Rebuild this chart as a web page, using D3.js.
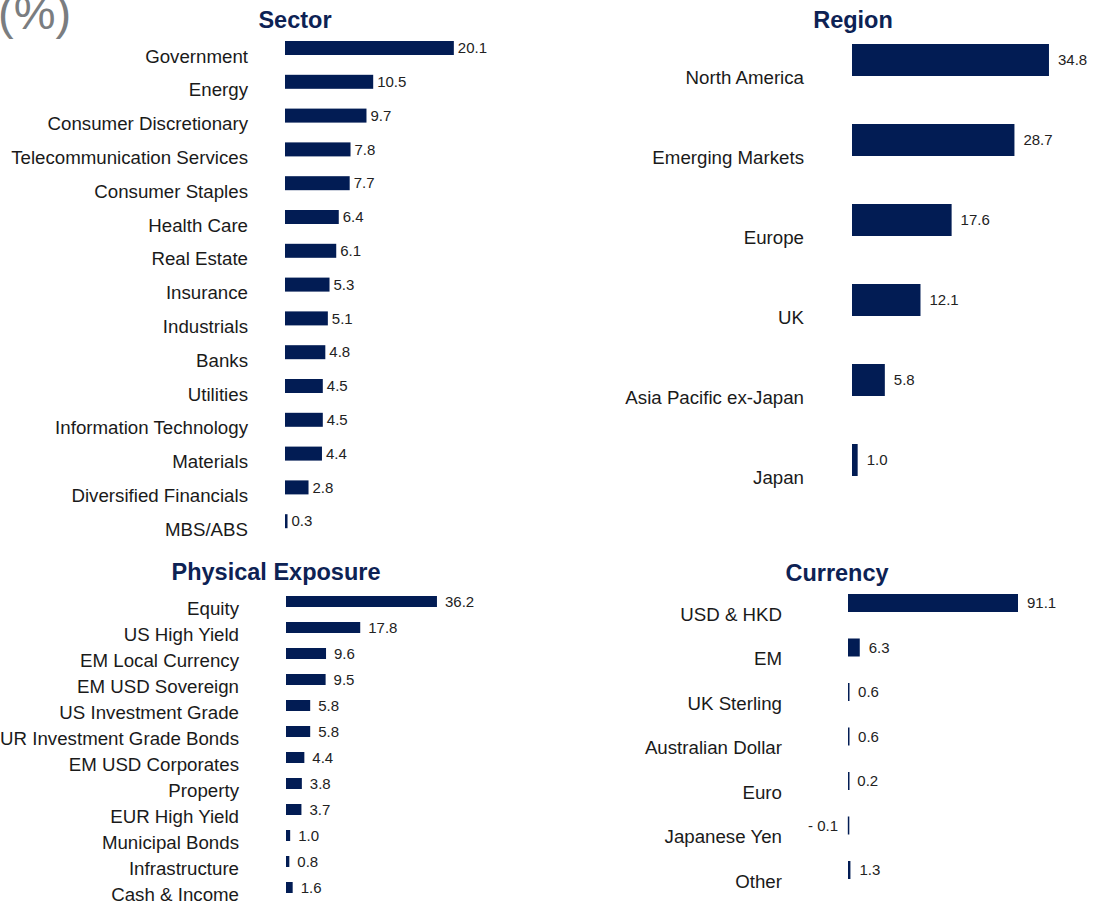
<!DOCTYPE html>
<html>
<head>
<meta charset="utf-8">
<script src="https://cdn.jsdelivr.net/npm/d3@7"></script>
<style>
  html, body { margin: 0; padding: 0; background: #fff; }
  text { font-family: "Liberation Sans", Arial, sans-serif; }
</style>
</head>
<body>
<div id="chart"></div>
<script>
// Data
const sectorNames = ["Government", "Energy", "Consumer Discretionary", "Telecommunication Services",
  "Consumer Staples", "Health Care", "Real Estate", "Insurance", "Industrials", "Banks",
  "Utilities", "Information Technology", "Materials", "Diversified Financials", "MBS/ABS"];
const sectorValues = [20.1, 10.5, 9.7, 7.8, 7.7, 6.4, 6.1, 5.3, 5.1, 4.8, 4.5, 4.5, 4.4, 2.8, 0.3];

const regionNames = ["North America", "Emerging Markets", "Europe", "UK", "Asia Pacific ex-Japan", "Japan"];
const regionValues = [34.8, 28.7, 17.6, 12.1, 5.8, 1.0];

const exposureNames = ["Equity", "US High Yield", "EM Local Currency", "EM USD Sovereign",
  "US Investment Grade", "EUR Investment Grade Bonds", "EM USD Corporates", "Property",
  "EUR High Yield", "Municipal Bonds", "Infrastructure", "Cash & Income"];
const exposureValues = [36.2, 17.8, 9.6, 9.5, 5.8, 5.8, 4.4, 3.8, 3.7, 1.0, 0.8, 1.6];

const currencyNames = ["USD & HKD", "EM", "UK Sterling", "Australian Dollar", "Euro", "Japanese Yen", "Other"];
const currencyValues = [91.1, 6.3, 0.6, 0.6, 0.2, -0.1, 1.3];

const navy = "#021c54";
const titleColor = "#0d2254";

const svg = d3.select("#chart").append("svg")
  .attr("width", 1101)
  .attr("height", 902);

// unit label in the corner
svg.append("text")
  .attr("x", -2).attr("y", 29)
  .attr("font-size", 47)
  .attr("fill", "#7a7d80")
  .text("(%)");

// one panel of horizontal bars
function panel(opt) {
  const g = svg.append("g");
  const n = opt.names.length;

  const x = d3.scaleLinear()
    .domain([0, 1])
    .range([opt.x0, opt.x0 + opt.ppu]);

  const y = d3.scaleBand()
    .domain(opt.names)
    .range([opt.top, opt.top + n * opt.step])
    .padding(0);

  g.append("text")
    .attr("x", opt.titleX).attr("y", opt.titleY)
    .attr("text-anchor", "middle")
    .attr("font-size", 23.5)
    .attr("font-weight", "bold")
    .attr("fill", titleColor)
    .text(opt.title);

  const rows = opt.names.map((d, i) => ({ name: d, value: opt.values[i] }));

  g.selectAll("rect.bar")
    .data(rows)
    .join("rect").classed("bar", true)
    .attr("x", d => Math.min(x(0), x(d.value)))
    .attr("y", d => y(d.name))
    .attr("width", d => Math.max(Math.abs(x(d.value) - x(0)), 1.5))
    .attr("height", opt.barH)
    .attr("fill", navy);

  g.selectAll("text.cat")
    .data(rows)
    .join("text").classed("cat", true)
    .attr("x", opt.labelRight)
    .attr("y", d => y(d.name) + opt.labelOff)
    .attr("dy", "0.35em")
    .attr("text-anchor", "end")
    .attr("font-size", 18.7)
    .attr("fill", "#1a1a1a")
    .text(d => d.name);

  g.selectAll("text.val")
    .data(rows)
    .join("text").classed("val", true)
    .attr("x", d => d.value < 0 ? x(0) - 10 : x(d.value) + opt.valGap)
    .attr("y", d => y(d.name) + opt.barH / 2)
    .attr("dy", "0.35em")
    .attr("text-anchor", d => d.value < 0 ? "end" : "start")
    .attr("font-size", 15)
    .attr("fill", "#222")
    .text(d => d.value < 0 ? "-  " + d3.format(".1f")(-d.value) : d3.format(".1f")(d.value));
}

panel({
  title: "Sector", titleX: 295, titleY: 28,
  names: sectorNames, values: sectorValues,
  x0: 285, ppu: 8.4, top: 41, step: 33.8, barH: 14,
  labelRight: 248, labelOff: 15, valGap: 4
});

panel({
  title: "Region", titleX: 853, titleY: 28,
  names: regionNames, values: regionValues,
  x0: 852, ppu: 5.66, top: 44, step: 80, barH: 32,
  labelRight: 804, labelOff: 33, valGap: 9
});

panel({
  title: "Physical Exposure", titleX: 276, titleY: 580,
  names: exposureNames, values: exposureValues,
  x0: 286, ppu: 4.17, top: 596, step: 26, barH: 11,
  labelRight: 239, labelOff: 12, valGap: 8
});

panel({
  title: "Currency", titleX: 837, titleY: 581,
  names: currencyNames, values: currencyValues,
  x0: 848, ppu: 1.866, top: 594, step: 44.5, barH: 18,
  labelRight: 782, labelOff: 20, valGap: 9
});
</script>
</body>
</html>
